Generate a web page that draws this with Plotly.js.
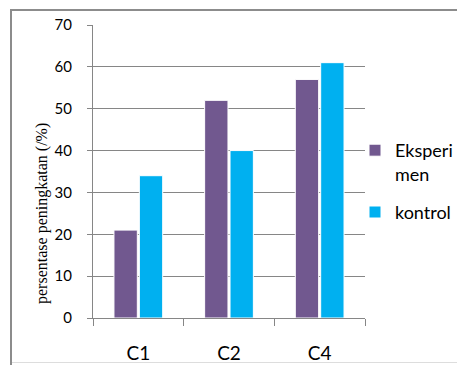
<!DOCTYPE html>
<html><head><meta charset="utf-8">
<script src="https://cdn.plot.ly/plotly-3.0.1.min.js"></script>
<style>
html,body{margin:0;padding:0;background:#fff;overflow:hidden}
#chart{width:457px;height:365px}
</style>
</head><body><div id="chart"></div>
<script>
const categories = ["C1", "C2", "C4"];
const seriesNames = ["Eksperi<br>men", "kontrol"];
const eksperimen = [21, 52, 57];
const kontrol = [34, 40, 61];
const yTicks = [0, 10, 20, 30, 40, 50, 60, 70];
const yTitle = "persentase peningkatan (/%)";

const W = 457, H = 365, L = 93, R = 92, T = 25, B = 47;
const pw = W - L - R, ph = H - T - B;
const px = x => (x - L) / pw, py = y => (H - B - y) / ph;

const traces = [
  {type: "bar", x: categories, y: eksperimen, name: seriesNames[0], legendgroup: "g1",
   marker: {color: "#71588F", line: {color: "#ffffff", width: 1}}},
  {type: "bar", x: categories, y: kontrol, name: seriesNames[1], legendgroup: "g2",
   marker: {color: "#00B0F0", line: {color: "#ffffff", width: 1}}}
];

const layout = {
  width: W, height: H,
  margin: {l: L, r: R, t: T, b: B, pad: 0, autoexpand: false},
  paper_bgcolor: "#ffffff", plot_bgcolor: "#ffffff",
  barmode: "group", bargap: 0.44, bargroupgap: 0.08,
  font: {family: "Lato, 'Noto Sans', sans-serif", color: "#000"},
  xaxis: {
    type: "category", showgrid: false, showline: true, linecolor: "#868686", linewidth: 1,
    ticks: "outside", tickson: "boundaries", ticklen: 7, tickcolor: "#868686",
    tickfont: {size: 19, family: "Lato, sans-serif", color: "#000"}, ticklabelstandoff: 18,
    automargin: false, fixedrange: true
  },
  yaxis: {
    range: [0, 70], tickvals: yTicks, showgrid: true, gridcolor: "#868686", gridwidth: 1,
    showline: true, linecolor: "#868686", linewidth: 1, zeroline: false,
    ticks: "outside", ticklen: 5, tickcolor: "#868686",
    tickfont: {size: 15, family: "Lato, sans-serif", color: "#000"}, ticklabelstandoff: 12,
    automargin: false, fixedrange: true
  },
  showlegend: true,
  legend: {x: px(355), y: py(132), xanchor: "left", yanchor: "top", valign: "top",
    traceorder: "grouped", tracegroupgap: 12,
    font: {size: 18, family: "Lato, sans-serif", color: "#000"},
    bgcolor: "rgba(0,0,0,0)", itemwidth: 30},
  annotations: [{
    text: yTitle, xref: "paper", yref: "paper", x: px(42), y: py(214),
    xanchor: "center", yanchor: "middle", textangle: -90, showarrow: false,
    font: {family: "'Liberation Serif', 'Times New Roman', serif", size: 16, color: "#000"}
  }],
  shapes: [
    {type: "path", xref: "paper", yref: "paper",
     path: "M " + px(11) + "," + py(367) + " L " + px(11) + "," + py(10) + " L " + px(460) + "," + py(10),
     line: {color: "#8c8c8c", width: 2}, layer: "above"},
    {type: "path", xref: "paper", yref: "paper",
     path: "M " + px(12) + "," + py(362.5) + " L " + px(460) + "," + py(362.5),
     line: {color: "#dddddd", width: 1}, layer: "above"}
  ]
};

Plotly.newPlot("chart", traces, layout, {staticPlot: true, displayModeBar: false});
</script></body></html>
